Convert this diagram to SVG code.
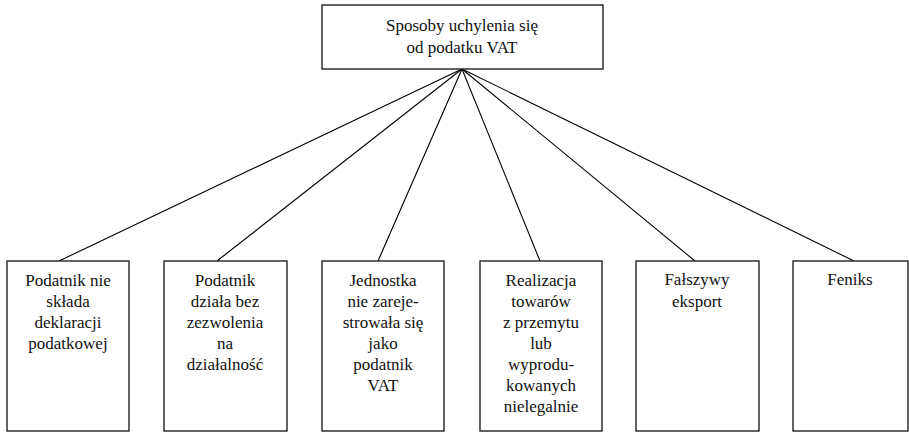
<svg xmlns="http://www.w3.org/2000/svg" width="909" height="432" viewBox="0 0 909 432" font-family="Liberation Serif, serif" font-size="17">
  <defs>
    <style>
      .box { fill: #ffffff; stroke: #222222; stroke-width: 1.4; }
      .edge { stroke: #000000; stroke-width: 1.1; fill: none; }
      .t { fill: #111111; text-anchor: middle; }
    </style>
  </defs>
  <rect width="909" height="432" fill="#ffffff"/>
  <g id="connectors">
    <line class="edge" x1="462" y1="69" x2="59" y2="261"/>
    <line class="edge" x1="462" y1="69" x2="217" y2="261"/>
    <line class="edge" x1="462" y1="69" x2="378" y2="261"/>
    <line class="edge" x1="462" y1="69" x2="540" y2="261"/>
    <line class="edge" x1="462" y1="69" x2="695" y2="261"/>
    <line class="edge" x1="462" y1="69" x2="854" y2="261"/>
  </g>
  <g id="root">
    <rect class="box" x="322" y="5" width="281" height="64"/>
    <text class="t" x="462" y="31">Sposoby uchylenia się</text>
    <text class="t" x="462" y="53">od podatku VAT</text>
  </g>
  <g id="n1">
    <rect class="box" x="7" y="261" width="122" height="170"/>
    <text class="t" x="68" y="286">Podatnik nie</text>
    <text class="t" x="68" y="307">składa</text>
    <text class="t" x="68" y="328">deklaracji</text>
    <text class="t" x="68" y="349">podatkowej</text>
  </g>
  <g id="n2">
    <rect class="box" x="164" y="261" width="123" height="170"/>
    <text class="t" x="225" y="286">Podatnik</text>
    <text class="t" x="225" y="307">działa bez</text>
    <text class="t" x="225" y="328">zezwolenia</text>
    <text class="t" x="225" y="349">na</text>
    <text class="t" x="225" y="370">działalność</text>
  </g>
  <g id="n3">
    <rect class="box" x="322" y="261" width="122" height="170"/>
    <text class="t" x="383" y="286">Jednostka</text>
    <text class="t" x="383" y="307">nie zareje-</text>
    <text class="t" x="383" y="328">strowała się</text>
    <text class="t" x="383" y="349">jako</text>
    <text class="t" x="383" y="370">podatnik</text>
    <text class="t" x="383" y="391">VAT</text>
  </g>
  <g id="n4">
    <rect class="box" x="480" y="261" width="122" height="170"/>
    <text class="t" x="541" y="286">Realizacja</text>
    <text class="t" x="541" y="307">towarów</text>
    <text class="t" x="541" y="328">z przemytu</text>
    <text class="t" x="541" y="349">lub</text>
    <text class="t" x="541" y="370">wyprodu-</text>
    <text class="t" x="541" y="391">kowanych</text>
    <text class="t" x="541" y="412">nielegalnie</text>
  </g>
  <g id="n5">
    <rect class="box" x="636" y="261" width="123" height="170"/>
    <text class="t" x="697" y="285">Fałszywy</text>
    <text class="t" x="697" y="307">eksport</text>
  </g>
  <g id="n6">
    <rect class="box" x="793" y="261" width="115" height="170"/>
    <text class="t" x="850" y="285">Feniks</text>
  </g>
</svg>
